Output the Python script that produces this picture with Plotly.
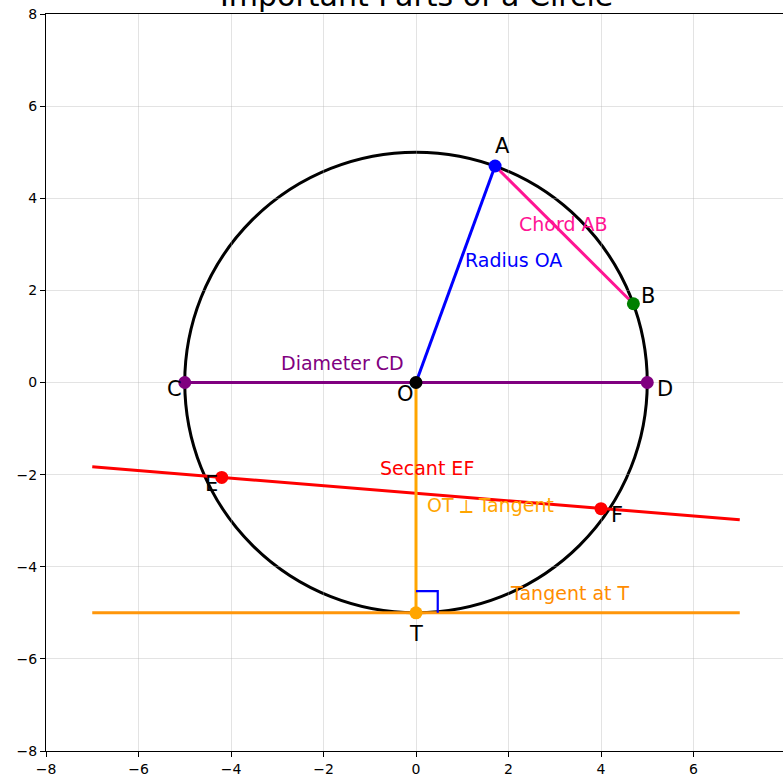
import plotly.graph_objects as go

# ---- data ----
radius = 5
point_names = ["A", "B", "C", "D", "O", "E", "F", "T"]
point_x = [1.71, 4.70, -5.0, 5.0, 0.0, -4.2, 4.0, 0.0]
point_y = [4.70, 1.71, 0.0, 0.0, 0.0, -2.06, -2.74, -5.0]
point_colors = ["blue", "green", "purple", "purple", "black", "red", "red", "orange"]
label_x = [1.87, 5.02, -5.23, 5.38, -0.22, -4.43, 4.35, 0.0]
label_y = [5.13, 1.87, -0.15, -0.15, -0.24, -2.21, -2.87, -5.45]

diameter_x = [-5, 5]; diameter_y = [0, 0]
radius_x = [0, 1.71]; radius_y = [0, 4.70]
chord_x = [1.71, 4.70]; chord_y = [4.70, 1.71]
secant_x = [-7, 7]; secant_y = [-1.83, -2.98]
tangent_x = [-7, 7]; tangent_y = [-5, -5]
ot_x = [0, 0]; ot_y = [0, -5]
square_x = [0, 0.47, 0.47]; square_y = [-4.53, -4.53, -5]

text_labels = ["Diameter CD", "Radius OA", "Chord AB", "Secant EF", "OT ⟂ Tangent", "Tangent at T"]
text_x = [-1.6, 2.10, 3.18, 0.24, 1.6, 3.33]
text_y = [0.43, 2.65, 3.45, -1.85, -2.67, -4.56]
text_colors = ["purple", "blue", "#FF1493", "red", "orange", "darkorange"]

xticks = [-8, -6, -4, -2, 0, 2, 4, 6, 8]
yticks = [-8, -6, -4, -2, 0, 2, 4, 6, 8]

FONT = "DejaVu Sans"

fig = go.Figure()

def line(x, y, color, width=3):
    fig.add_trace(go.Scatter(x=x, y=y, mode="lines", line=dict(color=color, width=width),
                             hoverinfo="skip", showlegend=False))

line(diameter_x, diameter_y, "purple")
line(radius_x, radius_y, "blue")
line(chord_x, chord_y, "#FF1493")
line(secant_x, secant_y, "red")
line(tangent_x, tangent_y, "#FF960A")
line(ot_x, ot_y, "orange")
line(square_x, square_y, "blue", 2.2)

fig.add_trace(go.Scatter(x=point_x, y=point_y, mode="markers",
                         marker=dict(color=point_colors, size=13),
                         hoverinfo="skip", showlegend=False))

fig.add_shape(type="circle", xref="x", yref="y", x0=-radius, y0=-radius, x1=radius, y1=radius,
              line=dict(color="black", width=3), layer="below")

annotations = []
for n, x, y in zip(point_names, label_x, label_y):
    annotations.append(dict(x=x, y=y, xref="x", yref="y", text=n, showarrow=False,
                            font=dict(family=FONT, size=21, color="black"),
                            xanchor="center", yanchor="middle"))
for t, x, y, c in zip(text_labels, text_x, text_y, text_colors):
    annotations.append(dict(x=x, y=y, xref="x", yref="y", text=t, showarrow=False,
                            font=dict(family=FONT, size=19, color=c),
                            xanchor="center", yanchor="middle"))
annotations.append(dict(x=0, y=1, xref="x", yref="paper", text="Important Parts of a Circle",
                        showarrow=False, font=dict(family=FONT, size=30, color="black"),
                        xanchor="center", yanchor="bottom", yshift=-1))

fig.update_layout(
    width=783, height=778,
    margin=dict(l=46, r=0, t=14, b=27),
    paper_bgcolor="white", plot_bgcolor="white",
    annotations=annotations,
    font=dict(family=FONT, size=14, color="black"),
    xaxis=dict(range=[-8, 7.935], tickvals=xticks, showgrid=True, gridcolor="rgba(176,176,176,0.35)",
               gridwidth=1, zeroline=False, showline=True, linecolor="black", linewidth=1.2,
               mirror=True, ticks="outside", ticklen=5, tickcolor="black",
               ticklabeloverflow="allow",
               tickfont=dict(family=FONT, size=14, color="black")),
    yaxis=dict(range=[-8, 8], tickvals=yticks, showgrid=True, gridcolor="rgba(176,176,176,0.35)",
               gridwidth=1, zeroline=False, showline=True, linecolor="black", linewidth=1.2,
               mirror=False, ticks="outside", ticklen=5, tickcolor="black",
               ticklabeloverflow="allow",
               tickfont=dict(family=FONT, size=14, color="black")),
)

fig.write_html(
    "out.html",
    config={"displayModeBar": False},
    post_script="document.documentElement.style.overflow='hidden';"
                "document.body.style.margin='0';document.body.style.overflow='hidden';",
)
